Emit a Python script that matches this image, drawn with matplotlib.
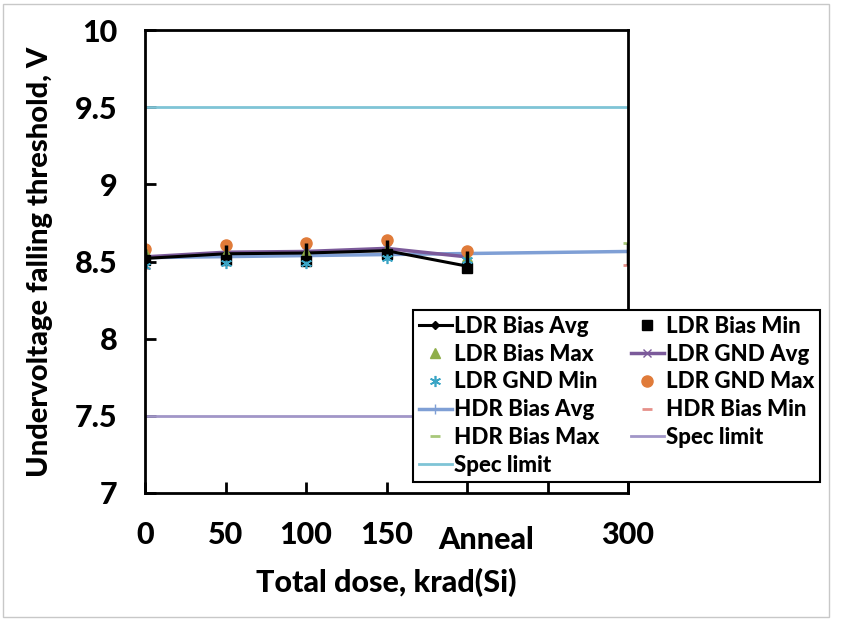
import numpy as np
import matplotlib
matplotlib.use("Agg")
import matplotlib.pyplot as plt
from matplotlib.patches import Rectangle

plt.rcParams['font.family'] = ['Lato', 'DejaVu Sans']
plt.rcParams['font.weight'] = 'black'
W = 'black'

# data
ldr_x = [0, 50, 100, 150, 200]          # 200 = Anneal
ldr_bias_avg = [8.52, 8.55, 8.555, 8.57, 8.47]
ldr_bias_min = [8.51, 8.51, 8.505, 8.55, 8.46]
ldr_bias_max = [8.56, 8.555, 8.56, 8.58, 8.53]
ldr_gnd_avg = [8.53, 8.56, 8.565, 8.585, 8.53]
ldr_gnd_min = [8.47, 8.49, 8.49, 8.52, 8.51]
ldr_gnd_max = [8.58, 8.61, 8.62, 8.64, 8.57]

hdr_x = [0, 300]
hdr_bias_avg = [8.525, 8.565]
hdr_bias_min = [8.46, 8.48]
hdr_bias_max = [8.56, 8.62]

spec_hi = 9.5
spec_lo = 7.5

xticks = [0, 50, 100, 150, 200, 250, 300]
xticklabels = ['0', '50', '100', '150', '', '', '300']
yticks = [7, 7.5, 8, 8.5, 9, 9.5, 10]
yticklabels = ['7', '7.5', '8', '8.5', '9', '9.5', '10']

fig = plt.figure(figsize=(8.57, 6.21), dpi=100)
ax = fig.add_axes([145/857, 1 - 493/621, 483/857, 463/621])

# figure frame
fig.patches.append(Rectangle((3/857, 4/621), 826/857, 613/621, transform=fig.transFigure,
                             fill=False, edgecolor='#c8c8c8', lw=1))

h = {}
h['sl2'], = ax.plot([0, 300], [spec_lo, spec_lo], color='#a196c8', lw=2, label='Spec limit')
h['sl1'], = ax.plot([0, 300], [spec_hi, spec_hi], color='#7fc4d6', lw=2, label='Spec limit')

# black high-low bars
ax.vlines(ldr_x, ldr_bias_min, ldr_gnd_max, color='black', lw=2.5, zorder=4)
ax.vlines(hdr_x, hdr_bias_min, hdr_bias_max, color='black', lw=2.5, zorder=4)

h['hba'], = ax.plot(hdr_x, hdr_bias_avg, color='#7f9fd5', lw=2.5, marker='+', ms=7, label='HDR Bias Avg')
h['hbmin'], = ax.plot(hdr_x, hdr_bias_min, ls='none', color='#e6908a', marker='_', ms=7, mew=2, label='HDR Bias Min')
h['hbmax'], = ax.plot(hdr_x, hdr_bias_max, ls='none', color='#a8c87a', marker='_', ms=7, mew=2, label='HDR Bias Max')
h['lga'], = ax.plot(ldr_x, ldr_gnd_avg, color='#7b5a9a', lw=2.5, marker='x', ms=6, label='LDR GND Avg')
h['lba'], = ax.plot(ldr_x, ldr_bias_avg, color='black', lw=2.2, marker='D', ms=4, label='LDR Bias Avg')
h['lgmax'], = ax.plot(ldr_x, ldr_gnd_max, ls='none', color='#e07b39', marker='o', ms=8, label='LDR GND Max')
h['lbmax'], = ax.plot(ldr_x, ldr_bias_max, ls='none', color='#8fae4a', marker='^', ms=7, label='LDR Bias Max')
h['lbmin'], = ax.plot(ldr_x, ldr_bias_min, ls='none', color='black', marker='s', ms=7, label='LDR Bias Min')
h['lgmin'], = ax.plot(ldr_x, ldr_gnd_min, ls='none', color='#3aa5c5', marker=(6, 2, 0), ms=8, mew=1.2, label='LDR GND Min')

ax.set_xlim(0, 300)
ax.set_ylim(7, 10)
ax.set_xticks(xticks)
ax.set_xticklabels(xticklabels)
ax.set_yticks(yticks)
ax.set_yticklabels(yticklabels)
ax.tick_params(direction='in', length=8, width=2, labelsize=22, pad=20)
for s in ax.spines.values():
    s.set_linewidth(2)
ax.text(212, -0.102, 'Anneal', transform=ax.get_xaxis_transform(), ha='center', va='center',
        fontsize=22, fontweight=W)

ax.set_xlabel('Total dose, krad(Si)', fontsize=22, fontweight=W, labelpad=14)
ax.set_ylabel('Undervoltage falling threshold, V', fontsize=21, fontweight=W)
ax.yaxis.set_label_coords(-0.19, 0.5)

order = ['lba', 'lbmax', 'lgmin', 'hba', 'hbmax', 'sl1',
         'lbmin', 'lga', 'lgmax', 'hbmin', 'sl2']
leg = ax.legend([h[k] for k in order], [h[k].get_label() for k in order], ncol=2,
                loc='upper left', bbox_to_anchor=(0.555, 0.395), fancybox=False,
                framealpha=1, edgecolor='black', prop={'size': 16, 'weight': W},
                handlelength=1.5, handletextpad=0.1, columnspacing=1.4,
                labelspacing=0.31, borderpad=0.25, borderaxespad=0)
leg.get_frame().set_linewidth(1.5)
leg.set_zorder(10)

fig.savefig('out.png', dpi=100)
